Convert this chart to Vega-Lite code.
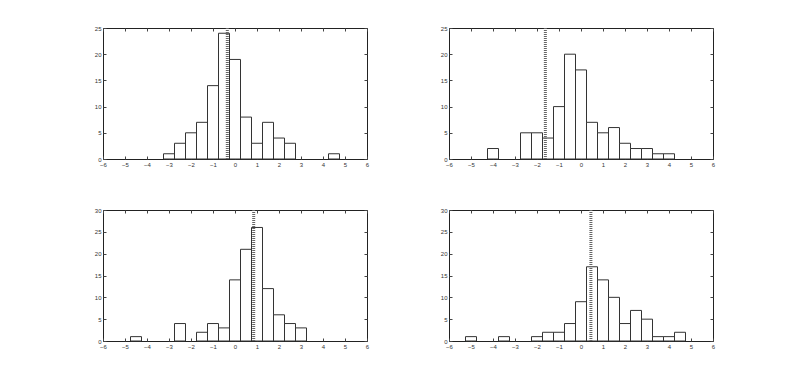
{
  "$schema": "https://vega.github.io/schema/vega-lite/v6.json",
  "padding": {"left": 93, "top": 24, "right": 5, "bottom": 5},
  "background": "white",
  "config": {
    "view": {"stroke": "#222", "strokeWidth": 1},
    "axis": {"domain": false, "grid": false, "tickColor": "#444", "tickSize": -3, "labelFontSize": 6, "labelFont": "Liberation Sans", "labelColor": "#333", "labelPadding": 5, "labelFlush": false, "labelOverlap": false, "title": null}
  },
  "datasets": {
    "bars": [
      {"panel": 1, "x0": -3.25, "x1": -2.75, "count": 1},
      {"panel": 1, "x0": -2.75, "x1": -2.25, "count": 3},
      {"panel": 1, "x0": -2.25, "x1": -1.75, "count": 5},
      {"panel": 1, "x0": -1.75, "x1": -1.25, "count": 7},
      {"panel": 1, "x0": -1.25, "x1": -0.75, "count": 14},
      {"panel": 1, "x0": -0.75, "x1": -0.25, "count": 24},
      {"panel": 1, "x0": -0.25, "x1": 0.25, "count": 19},
      {"panel": 1, "x0": 0.25, "x1": 0.75, "count": 8},
      {"panel": 1, "x0": 0.75, "x1": 1.25, "count": 3},
      {"panel": 1, "x0": 1.25, "x1": 1.75, "count": 7},
      {"panel": 1, "x0": 1.75, "x1": 2.25, "count": 4},
      {"panel": 1, "x0": 2.25, "x1": 2.75, "count": 3},
      {"panel": 1, "x0": 4.25, "x1": 4.75, "count": 1},
      {"panel": 2, "x0": -4.25, "x1": -3.75, "count": 2},
      {"panel": 2, "x0": -2.75, "x1": -2.25, "count": 5},
      {"panel": 2, "x0": -2.25, "x1": -1.75, "count": 5},
      {"panel": 2, "x0": -1.75, "x1": -1.25, "count": 4},
      {"panel": 2, "x0": -1.25, "x1": -0.75, "count": 10},
      {"panel": 2, "x0": -0.75, "x1": -0.25, "count": 20},
      {"panel": 2, "x0": -0.25, "x1": 0.25, "count": 17},
      {"panel": 2, "x0": 0.25, "x1": 0.75, "count": 7},
      {"panel": 2, "x0": 0.75, "x1": 1.25, "count": 5},
      {"panel": 2, "x0": 1.25, "x1": 1.75, "count": 6},
      {"panel": 2, "x0": 1.75, "x1": 2.25, "count": 3},
      {"panel": 2, "x0": 2.25, "x1": 2.75, "count": 2},
      {"panel": 2, "x0": 2.75, "x1": 3.25, "count": 2},
      {"panel": 2, "x0": 3.25, "x1": 3.75, "count": 1},
      {"panel": 2, "x0": 3.75, "x1": 4.25, "count": 1},
      {"panel": 3, "x0": -4.75, "x1": -4.25, "count": 1},
      {"panel": 3, "x0": -2.75, "x1": -2.25, "count": 4},
      {"panel": 3, "x0": -1.75, "x1": -1.25, "count": 2},
      {"panel": 3, "x0": -1.25, "x1": -0.75, "count": 4},
      {"panel": 3, "x0": -0.75, "x1": -0.25, "count": 3},
      {"panel": 3, "x0": -0.25, "x1": 0.25, "count": 14},
      {"panel": 3, "x0": 0.25, "x1": 0.75, "count": 21},
      {"panel": 3, "x0": 0.75, "x1": 1.25, "count": 26},
      {"panel": 3, "x0": 1.25, "x1": 1.75, "count": 12},
      {"panel": 3, "x0": 1.75, "x1": 2.25, "count": 6},
      {"panel": 3, "x0": 2.25, "x1": 2.75, "count": 4},
      {"panel": 3, "x0": 2.75, "x1": 3.25, "count": 3},
      {"panel": 4, "x0": -5.25, "x1": -4.75, "count": 1},
      {"panel": 4, "x0": -3.75, "x1": -3.25, "count": 1},
      {"panel": 4, "x0": -2.25, "x1": -1.75, "count": 1},
      {"panel": 4, "x0": -1.75, "x1": -1.25, "count": 2},
      {"panel": 4, "x0": -1.25, "x1": -0.75, "count": 2},
      {"panel": 4, "x0": -0.75, "x1": -0.25, "count": 4},
      {"panel": 4, "x0": -0.25, "x1": 0.25, "count": 9},
      {"panel": 4, "x0": 0.25, "x1": 0.75, "count": 17},
      {"panel": 4, "x0": 0.75, "x1": 1.25, "count": 14},
      {"panel": 4, "x0": 1.25, "x1": 1.75, "count": 10},
      {"panel": 4, "x0": 1.75, "x1": 2.25, "count": 4},
      {"panel": 4, "x0": 2.25, "x1": 2.75, "count": 7},
      {"panel": 4, "x0": 2.75, "x1": 3.25, "count": 5},
      {"panel": 4, "x0": 3.25, "x1": 3.75, "count": 1},
      {"panel": 4, "x0": 3.75, "x1": 4.25, "count": 1},
      {"panel": 4, "x0": 4.25, "x1": 4.75, "count": 2}
    ],
    "lines": [
      {"panel": 1, "x": -0.35},
      {"panel": 2, "x": -1.62},
      {"panel": 3, "x": 0.85},
      {"panel": 4, "x": 0.45}
    ]
  },
  "columns": 2,
  "spacing": {"row": 38, "column": 69},
  "concat": [
    {
      "width": 264, "height": 131,
      "layer": [
        {"data": {"name": "bars"}, "transform": [{"filter": "datum.panel == 1"}],
         "mark": {"type": "bar", "fill": "white", "stroke": "#333", "strokeWidth": 1},
         "encoding": {
           "x": {"field": "x0", "type": "quantitative", "scale": {"domain": [-6, 6], "nice": false}, "axis": {"orient": "bottom", "values": [-6,-5,-4,-3,-2,-1,0,1,2,3,4,5,6]}},
           "x2": {"field": "x1"},
           "y": {"field": "count", "type": "quantitative", "scale": {"domain": [0, 25], "nice": false}, "axis": {"orient": "left", "values": [0,5,10,15,20,25]}},
           "y2": {"datum": 0}
         }},
        {"data": {"name": "lines"}, "transform": [{"filter": "datum.panel == 1"}],
         "mark": {"type": "rule", "stroke": "#666", "strokeWidth": 3, "strokeDash": [1, 1]},
         "encoding": {
           "x": {"field": "x", "type": "quantitative", "scale": {"domain": [-6, 6], "nice": false}, "axis": {"orient": "top", "labels": false, "values": [-6,-5,-4,-3,-2,-1,0,1,2,3,4,5,6]}}
         }},
        {"data": {"name": "bars"}, "transform": [{"filter": "datum.panel == 1"}],
         "mark": {"type": "bar", "opacity": 0},
         "encoding": {
           "x": {"field": "x0", "type": "quantitative", "scale": {"domain": [-6, 6], "nice": false}, "axis": null},
           "x2": {"field": "x1"},
           "y": {"field": "count", "type": "quantitative", "scale": {"domain": [0, 25], "nice": false}, "axis": {"orient": "right", "labels": false, "values": [0,5,10,15,20,25]}},
           "y2": {"datum": 0}
         }}
      ],
      "resolve": {"axis": {"x": "independent", "y": "independent"}}
    },
    {
      "width": 264, "height": 131,
      "layer": [
        {"data": {"name": "bars"}, "transform": [{"filter": "datum.panel == 2"}],
         "mark": {"type": "bar", "fill": "white", "stroke": "#333", "strokeWidth": 1},
         "encoding": {
           "x": {"field": "x0", "type": "quantitative", "scale": {"domain": [-6, 6], "nice": false}, "axis": {"orient": "bottom", "values": [-6,-5,-4,-3,-2,-1,0,1,2,3,4,5,6]}},
           "x2": {"field": "x1"},
           "y": {"field": "count", "type": "quantitative", "scale": {"domain": [0, 25], "nice": false}, "axis": {"orient": "left", "values": [0,5,10,15,20,25]}},
           "y2": {"datum": 0}
         }},
        {"data": {"name": "lines"}, "transform": [{"filter": "datum.panel == 2"}],
         "mark": {"type": "rule", "stroke": "#666", "strokeWidth": 3, "strokeDash": [1, 1]},
         "encoding": {
           "x": {"field": "x", "type": "quantitative", "scale": {"domain": [-6, 6], "nice": false}, "axis": {"orient": "top", "labels": false, "values": [-6,-5,-4,-3,-2,-1,0,1,2,3,4,5,6]}}
         }},
        {"data": {"name": "bars"}, "transform": [{"filter": "datum.panel == 2"}],
         "mark": {"type": "bar", "opacity": 0},
         "encoding": {
           "x": {"field": "x0", "type": "quantitative", "scale": {"domain": [-6, 6], "nice": false}, "axis": null},
           "x2": {"field": "x1"},
           "y": {"field": "count", "type": "quantitative", "scale": {"domain": [0, 25], "nice": false}, "axis": {"orient": "right", "labels": false, "values": [0,5,10,15,20,25]}},
           "y2": {"datum": 0}
         }}
      ],
      "resolve": {"axis": {"x": "independent", "y": "independent"}}
    },
    {
      "width": 264, "height": 131,
      "layer": [
        {"data": {"name": "bars"}, "transform": [{"filter": "datum.panel == 3"}],
         "mark": {"type": "bar", "fill": "white", "stroke": "#333", "strokeWidth": 1},
         "encoding": {
           "x": {"field": "x0", "type": "quantitative", "scale": {"domain": [-6, 6], "nice": false}, "axis": {"orient": "bottom", "values": [-6,-5,-4,-3,-2,-1,0,1,2,3,4,5,6]}},
           "x2": {"field": "x1"},
           "y": {"field": "count", "type": "quantitative", "scale": {"domain": [0, 30], "nice": false}, "axis": {"orient": "left", "values": [0,5,10,15,20,25,30]}},
           "y2": {"datum": 0}
         }},
        {"data": {"name": "lines"}, "transform": [{"filter": "datum.panel == 3"}],
         "mark": {"type": "rule", "stroke": "#666", "strokeWidth": 3, "strokeDash": [1, 1]},
         "encoding": {
           "x": {"field": "x", "type": "quantitative", "scale": {"domain": [-6, 6], "nice": false}, "axis": {"orient": "top", "labels": false, "values": [-6,-5,-4,-3,-2,-1,0,1,2,3,4,5,6]}}
         }},
        {"data": {"name": "bars"}, "transform": [{"filter": "datum.panel == 3"}],
         "mark": {"type": "bar", "opacity": 0},
         "encoding": {
           "x": {"field": "x0", "type": "quantitative", "scale": {"domain": [-6, 6], "nice": false}, "axis": null},
           "x2": {"field": "x1"},
           "y": {"field": "count", "type": "quantitative", "scale": {"domain": [0, 30], "nice": false}, "axis": {"orient": "right", "labels": false, "values": [0,5,10,15,20,25,30]}},
           "y2": {"datum": 0}
         }}
      ],
      "resolve": {"axis": {"x": "independent", "y": "independent"}}
    },
    {
      "width": 264, "height": 131,
      "layer": [
        {"data": {"name": "bars"}, "transform": [{"filter": "datum.panel == 4"}],
         "mark": {"type": "bar", "fill": "white", "stroke": "#333", "strokeWidth": 1},
         "encoding": {
           "x": {"field": "x0", "type": "quantitative", "scale": {"domain": [-6, 6], "nice": false}, "axis": {"orient": "bottom", "values": [-6,-5,-4,-3,-2,-1,0,1,2,3,4,5,6]}},
           "x2": {"field": "x1"},
           "y": {"field": "count", "type": "quantitative", "scale": {"domain": [0, 30], "nice": false}, "axis": {"orient": "left", "values": [0,5,10,15,20,25,30]}},
           "y2": {"datum": 0}
         }},
        {"data": {"name": "lines"}, "transform": [{"filter": "datum.panel == 4"}],
         "mark": {"type": "rule", "stroke": "#666", "strokeWidth": 3, "strokeDash": [1, 1]},
         "encoding": {
           "x": {"field": "x", "type": "quantitative", "scale": {"domain": [-6, 6], "nice": false}, "axis": {"orient": "top", "labels": false, "values": [-6,-5,-4,-3,-2,-1,0,1,2,3,4,5,6]}}
         }},
        {"data": {"name": "bars"}, "transform": [{"filter": "datum.panel == 4"}],
         "mark": {"type": "bar", "opacity": 0},
         "encoding": {
           "x": {"field": "x0", "type": "quantitative", "scale": {"domain": [-6, 6], "nice": false}, "axis": null},
           "x2": {"field": "x1"},
           "y": {"field": "count", "type": "quantitative", "scale": {"domain": [0, 30], "nice": false}, "axis": {"orient": "right", "labels": false, "values": [0,5,10,15,20,25,30]}},
           "y2": {"datum": 0}
         }}
      ],
      "resolve": {"axis": {"x": "independent", "y": "independent"}}
    }
  ]
}
